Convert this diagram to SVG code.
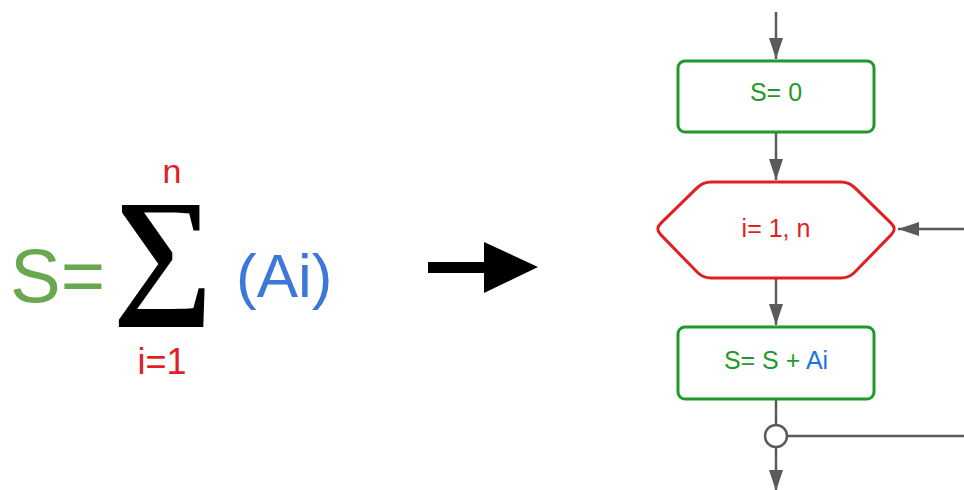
<svg xmlns="http://www.w3.org/2000/svg" width="964" height="490" viewBox="0 0 964 490">
<defs>
<marker id="ah" markerWidth="21" markerHeight="14" viewBox="0 0 21 14" refX="21" refY="7" orient="auto" markerUnits="userSpaceOnUse"><path d="M0,0 L21,7 L0,14 Z" fill="#5a5a5a"/></marker>
</defs>
<style>
.box{fill:#fff;stroke:#1f9a2a;stroke-width:3}
.hex{fill:#fff;stroke:#e21f1f;stroke-width:3;stroke-linejoin:round}
.con{fill:none;stroke:#5a5a5a;stroke-width:2.5}
.t{font-family:"Liberation Sans",Arial,sans-serif;text-anchor:middle}
.g{fill:#1f9a2a}
.b{fill:#1a73e8}
.r{fill:#e21f1f}
</style>
<rect width="964" height="490" fill="#fff"/>
<g id="formula">
<text x="10" y="302" font-family="Liberation Sans,Arial,sans-serif" font-size="76" fill="#6aa84f">S=</text>
<text x="163" y="297" text-anchor="middle" font-family="Liberation Serif,DejaVu Serif,serif" font-size="141" font-weight="bold" fill="#000">∑</text>
<text x="172" y="183" class="t r" font-size="34">n</text>
<text x="162" y="374" class="t r" font-size="36">i=1</text>
<text x="236" y="297" font-family="Liberation Sans,Arial,sans-serif" font-size="62" fill="#3c78d8">(Ai)</text>
</g>
<g id="big-arrow">
<rect x="428" y="262" width="58" height="11" fill="#000"/>
<path d="M484,242 L538,267 L484,293 Z" fill="#000"/>
</g>
<g id="connectors">
<path class="con" d="M776,12 V59" marker-end="url(#ah)"/>
<path class="con" d="M776,132 V180" marker-end="url(#ah)"/>
<path class="con" d="M776,278 V325" marker-end="url(#ah)"/>
<path class="con" d="M776,399 V424"/>
<path class="con" d="M776,448 V491" marker-end="url(#ah)"/>
<path class="con" d="M788,436 H964"/>
<path class="con" d="M964,229 H898" marker-end="url(#ah)"/>
</g>
<g id="n1">
<rect class="box" x="678" y="61" width="196" height="71" rx="7"/>
<text class="t g" x="776" y="101" font-size="25">S= 0</text>
</g>
<g id="n2">
<path class="hex" d="M660.7,223.4 L697.3,187.6 Q703,182 711,182 L841,182 Q849,182 854.7,187.6 L891.3,223.4 Q897,229 891.3,234.6 L854.7,272.3 Q849,278 841,278 L711,278 Q703,278 697.3,272.3 L660.7,234.6 Q655,229 660.7,223.4 Z"/>
<text class="t r" x="776" y="237" font-size="25">i= 1, n</text>
</g>
<g id="n3">
<rect class="box" x="678" y="327" width="196" height="72" rx="7"/>
<text class="t" x="776" y="369" font-size="25"><tspan class="g">S= S + </tspan><tspan class="b">Ai</tspan></text>
</g>
<g id="junction">
<circle cx="776" cy="436" r="11" fill="#fff" stroke="#5a5a5a" stroke-width="2.5"/>
</g>
</svg>
